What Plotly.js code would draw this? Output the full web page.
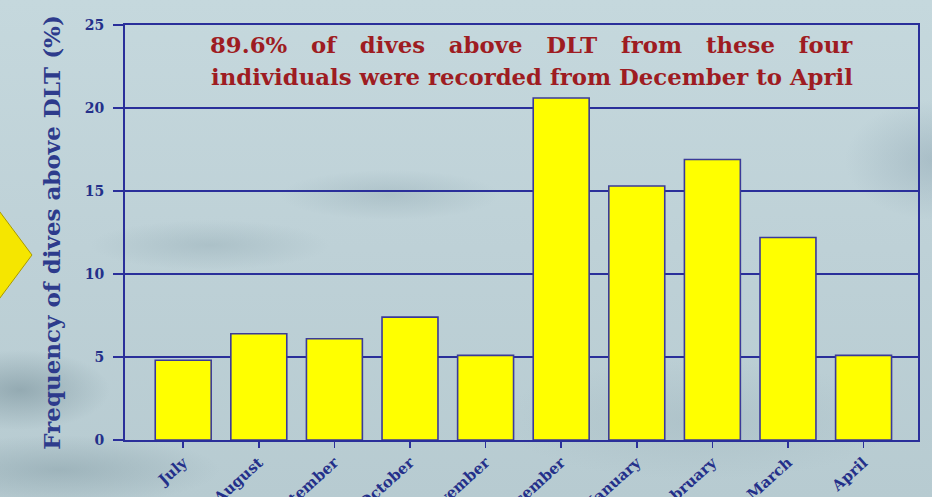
<!DOCTYPE html>
<html>
<head>
<meta charset="utf-8">
<script src="https://cdn.plot.ly/plotly-3.0.1.min.js"></script>
<style>
html, body { margin:0; padding:0; width:932px; height:497px; overflow:hidden; }
body {
  background:
    radial-gradient(ellipse 90px 40px at 20px 390px, rgba(110,135,145,0.5), rgba(110,135,145,0) 100%),
    radial-gradient(ellipse 160px 35px at 60px 470px, rgba(120,145,155,0.4), rgba(120,145,155,0) 100%),
    radial-gradient(ellipse 120px 25px at 210px 245px, rgba(130,155,165,0.3), rgba(130,155,165,0) 100%),
    radial-gradient(ellipse 110px 25px at 390px 195px, rgba(130,155,165,0.3), rgba(130,155,165,0) 100%),
    radial-gradient(ellipse 90px 60px at 935px 160px, rgba(125,150,165,0.35), rgba(125,150,165,0) 100%),
    radial-gradient(ellipse 200px 60px at 700px 420px, rgba(150,172,180,0.3), rgba(150,172,180,0) 100%),
    linear-gradient(180deg, #c5d8dd 0%, #bed1d7 50%, #b7cbd1 100%);
}
#chart { width:932px; height:497px; }
</style>
</head>
<body>
<div id="chart"></div>
<script>
const months = ["July","August","September","October","November","December","January","February","March","April"];
const frequency = [4.8, 6.4, 6.1, 7.4, 5.1, 20.6, 15.3, 16.9, 12.2, 5.1];
const yTicks = [0, 5, 10, 15, 20, 25];
const yTitle = "Frequency of dives above DLT (%)";
const noteLine1 = "89.6%\u00a0\u00a0 of\u00a0\u00a0 dives\u00a0\u00a0 above\u00a0\u00a0 DLT\u00a0\u00a0 from\u00a0\u00a0 these\u00a0\u00a0 four";
const noteLine2 = "individuals were recorded from December to April";

const blue = "#2a2f9a";
const serif = "DejaVu Serif, Liberation Serif, serif";

const trace = {
  type: "bar",
  x: months,
  y: frequency,
  marker: { color: "#ffff00", line: { color: "#3b3a98", width: 1.6 } },
  hoverinfo: "x+y"
};

const layout = {
  width: 932, height: 497,
  margin: { l: 125, r: 14, t: 25, b: 57, autoexpand: false },
  paper_bgcolor: "rgba(0,0,0,0)",
  plot_bgcolor: "rgba(0,0,0,0)",
  bargap: 0.26,
  showlegend: false,
  xaxis: {
    type: "category",
    range: [-0.77, 9.72],
    tickangle: -42,
    ticks: "outside", ticklen: 6, tickwidth: 1.5, tickcolor: blue,
    showline: true, linecolor: blue, linewidth: 2, mirror: true,
    showgrid: false,
    tickfont: { family: serif, size: 15, color: "#24308a", weight: "bold" },
    automargin: false
  },
  yaxis: {
    range: [0, 25],
    tickvals: yTicks,
    ticktext: yTicks.map(String),
    ticks: "outside", ticklen: 10, tickwidth: 1.5, tickcolor: blue,
    ticklabelstandoff: 6,
    showline: true, linecolor: blue, linewidth: 2, mirror: true,
    showgrid: true, gridcolor: blue, gridwidth: 2,
    zeroline: false,
    tickfont: { family: serif, size: 14, color: "#24308a", weight: "bold" },
    title: { text: yTitle, font: { family: serif, size: 23, color: "#2d3b8c", weight: "bold" }, standoff: 18 },
    automargin: false
  },
  annotations: [
    { xref: "paper", yref: "paper", x: 0.513, y: 0.952, xanchor: "center", yanchor: "middle",
      text: noteLine1, showarrow: false,
      font: { family: serif, size: 22.8, color: "#9e1c22", weight: "bold" } },
    { xref: "paper", yref: "paper", x: 0.513, y: 0.875, xanchor: "center", yanchor: "middle",
      text: noteLine2, showarrow: false,
      font: { family: serif, size: 22.8, color: "#9e1c22", weight: "bold" } }
  ],
  shapes: [
    { type: "path", xref: "paper", yref: "paper",
      path: "M -0.1765 0.5976 L -0.1173 0.4458 L -0.1765 0.294 Z",
      fillcolor: "#f5e600", line: { color: "#a99a00", width: 1 } }
  ]
};

Plotly.newPlot("chart", [trace], layout, { displayModeBar: false, staticPlot: true });
</script>
</body>
</html>
